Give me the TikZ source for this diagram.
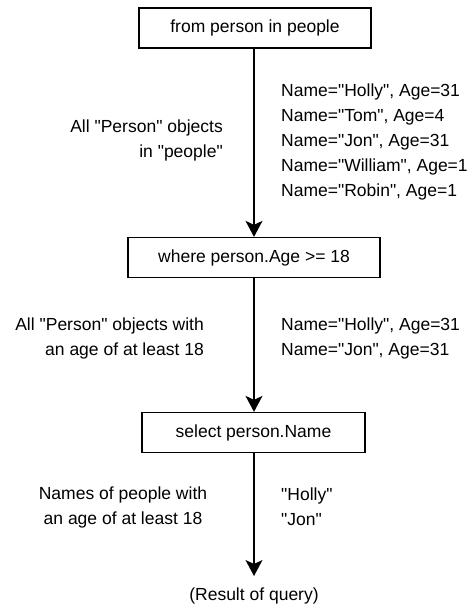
\documentclass[tikz,border=0pt]{standalone}
\usepackage{fontspec}
\newfontfamily\dfont{Liberation Sans}
\usetikzlibrary{arrows.meta}
\begin{document}
\begin{tikzpicture}[x=1pt,y=-1pt,
  every node/.style={font=\dfont\fontsize{17.5}{25}\selectfont, inner sep=0pt},
  stepbox/.style={draw, line width=1.3pt, minimum height=40pt, anchor=center},
  flow/.style={draw, line width=1.2pt, -{Stealth[length=16pt,width=17pt,inset=4pt]}},
  lbl/.style={align=right, anchor=east},
  data/.style={align=left, anchor=west}]
\useasboundingbox (0,0) rectangle (470,607);
\node[stepbox, minimum width=232pt] (from) at (255,28) {from person in people};
\node[stepbox, minimum width=252pt] (where) at (254,257.5) {where person.Age >= 18};
\node[stepbox, minimum width=223pt] (select) at (253.5,432.5) {select person.Name};
\coordinate (end) at (254,576);
\node (res) at (254,596) {(Result of query)};

\draw[flow] (from.south -| 254,0) -- (where.north -| 254,0);
\draw[flow] (where.south -| 254,0) -- (select.north -| 254,0);
\draw[flow] (select.south -| 254,0) -- (end);

\node[lbl] (l1) at (223,140) {All "Person" objects\\in "people"};
\node[data] (d1) at (281,142) {Name="Holly", Age=31\\Name="Tom", Age=4\\Name="Jon", Age=31\\Name="William", Age=1\\Name="Robin", Age=1};

\node[lbl] (l2) at (204,338) {All "Person" objects with\\an age of at least 18};
\node[data] (d2) at (281,338) {Name="Holly", Age=31\\Name="Jon", Age=31};

\node[align=center] (l3) at (123,507) {Names of people with\\an age of at least 18};
\node[data] (d3) at (281,507) {"Holly"\\"Jon"};
\end{tikzpicture}
\end{document}
